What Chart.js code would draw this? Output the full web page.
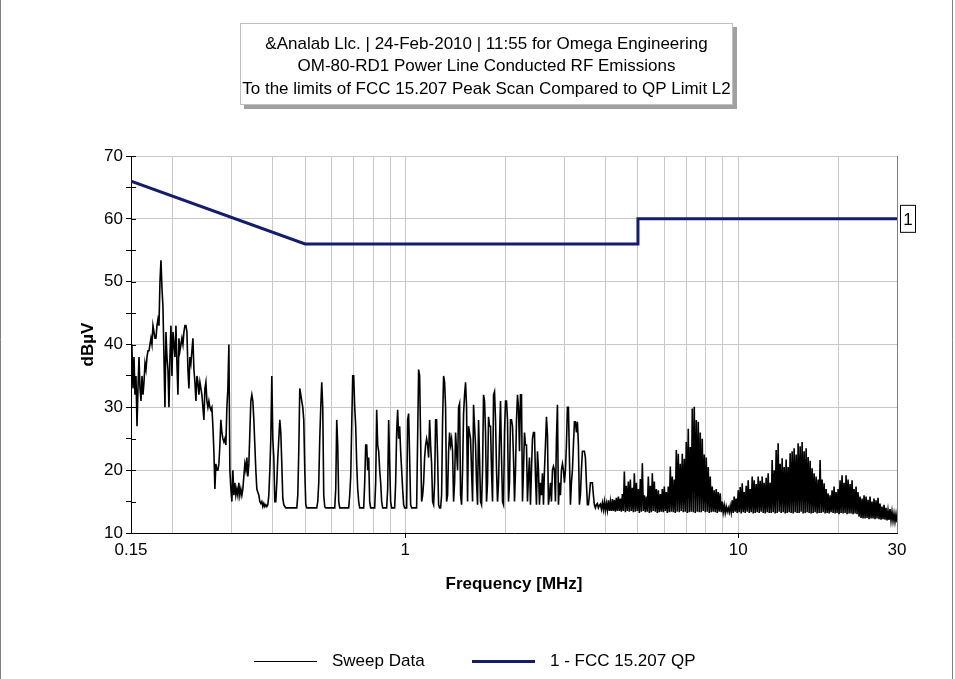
<!DOCTYPE html>
<html>
<head>
<meta charset="utf-8">
<script src="https://cdn.jsdelivr.net/npm/chart.js"></script>
<style>
body { margin: 0; background: #fff; }
canvas { display: block; }
</style>
</head>
<body>
<canvas id="emiChart" width="955" height="679"></canvas>
<script>
// Texts
const titleLines = [
  "&Analab Llc. | 24-Feb-2010 | 11:55 for Omega Engineering",
  "OM-80-RD1 Power Line Conducted RF Emissions",
  "To the limits of FCC 15.207 Peak Scan Compared to QP Limit L2"
];
const seriesNames = ["Sweep Data", "1 - FCC 15.207 QP"];
const limitTag = "1";

// Axis ticks
const yMin = 10, yMax = 70, yStep = 5;
const xMin = 0.15, xMax = 30;
const xGridValues = [0.15, 0.2, 0.3, 0.4, 0.5, 0.6, 0.7, 0.8, 0.9, 1, 2, 3, 4, 5, 6, 7, 8, 9, 10, 20, 30];
const xLabelValues = [0.15, 1, 10, 30];

// QP limit L2 (MHz, dBuV)
const limitFreq = [0.15, 0.5, 5, 5, 30];
const limitLevel = [66, 56, 56, 60, 60];

// Sweep, log spaced 0.15..30 MHz, levels (dBuV)
const sweepLevels = [
  40, 39, 33, 38, 32, 35, 27, 33, 38, 33,
  31, 35, 32, 34, 37, 36, 38, 39, 39, 40,
  41, 40, 43, 42, 41, 41, 43, 44, 43, 50,
  53.4, 49, 46, 38, 30, 42, 38, 36, 30, 38,
  43, 35, 42, 40, 38, 43, 37, 32, 41, 39,
  40, 41, 40, 42, 43, 43, 42, 36, 33, 38,
  37, 39, 41, 36, 34, 31, 35, 34, 32, 34,
  33, 32, 30, 28, 33, 34, 31, 30, 31, 30,
  29.6, 30, 27, 23, 17, 21, 20, 20, 21, 24,
  28, 26, 25, 24.5, 25, 24, 30, 33, 40, 20,
  17, 15, 20, 16, 18, 16, 17, 16, 18, 16,
  17, 16, 17, 19, 21, 20, 22, 19, 21, 26,
  31, 32, 31, 28, 24, 20, 17, 16.5, 16, 15,
  14.7, 15, 14.2, 14.7, 14.2, 14.5, 14.2, 14.5, 16, 20,
  25, 35, 25, 22, 15, 15, 18, 22, 25, 28,
  26, 21, 15.5, 14.5, 14.2, 14, 14, 14, 14, 14,
  14, 14, 14, 14, 14, 14, 14, 16, 23, 33,
  32, 31, 30, 28, 20, 14.5, 14, 14, 14, 14,
  14, 14, 14, 14, 14, 14, 14, 15, 18, 25,
  30, 34, 30, 16, 14.2, 14, 14, 14, 14, 14,
  14, 14, 14, 14, 14, 17, 28, 24, 15, 14,
  14, 14, 14, 14, 14, 14, 14, 14, 14, 16,
  19, 27, 35, 35, 30, 27, 21, 17, 15, 14,
  14, 14, 14, 14, 18, 24, 24, 20, 22, 15,
  14, 14, 14, 14, 14, 18, 29.6, 24, 23, 20,
  18, 15, 14, 14, 14, 14, 14, 17, 28, 21,
  15, 14, 14, 14, 14, 18, 26, 29.6, 25, 27,
  23, 20, 17, 14.5, 14, 14, 14, 28, 29, 22,
  14.5, 14, 14, 14, 14, 14, 14, 25, 36, 35,
  25, 15, 16, 18, 22, 24, 25, 24, 22, 28,
  24, 21, 15, 14.5, 18, 28, 28, 22, 14.5, 14,
  14, 16, 28, 35, 34, 30, 15, 16, 23, 26,
  24, 25, 23, 15, 18, 26, 23, 20, 30, 30.6,
  16, 14.5, 20, 29, 32, 34, 30, 15, 27, 26,
  25, 20, 15, 30.4, 27, 24, 18, 14.5, 28, 22,
  15, 14.5, 20, 32, 31, 26, 15, 18, 28.5, 27,
  27, 20, 15, 32, 32.5, 28, 20, 15, 18, 25,
  31, 22, 15, 14.5, 26, 31, 31, 28, 15, 18,
  28, 28, 27, 22, 15, 20, 28, 32, 30, 23,
  32, 32, 15, 20, 26, 24, 24, 15, 19, 22,
  14.5, 20, 25, 26, 26, 19, 14.5, 23, 20, 14.5,
  18, 16, 19.5, 14.5, 20, 24, 28.5, 25.6, 14.5, 16,
  18, 15, 20, 20.6, 20, 15, 25, 30.4, 14.5, 18,
  16, 20, 21, 20, 18, 20, 24, 30, 30, 22,
  14.5, 18, 20, 24, 27.7, 27.7, 26, 27.7, 24, 14.5,
  16, 20, 23, 23, 23, 22, 18, 14.5, 14.5, 16,
  18, 18, 18, 16, 14.5, 14, 14.5, 14.7, 14, 14.4
];

// Dense part above ~4 MHz: peak tops and noise floor, alternating columns
const denseTops = [
  14.6, 14.8, 15.0, 14.7, 15.2, 15.0, 15.4, 15.3,
  15.6, 15.8, 15.5, 16.2,
  19.8, 17.5, 18.2,
  18.5, 17.2, 19.5, 18.0, 17.0, 18.6,
  21.1, 16.0, 15.8,
  19.0, 17.5, 19.5, 18.2, 17.0,
  16.8, 16.2, 17.0, 17.4, 16.5, 17.4,
  20.6, 19.0, 18.5, 23.2, 22.6, 21.0,
  22.6, 21.8, 24.5, 26.6, 23.7,
  29.8, 30.1, 28.0, 27.7, 26.0,
  25.0, 22.5, 22.0, 20.5, 19.0,
  17.4, 16.8, 17.0, 16.5, 16.3,
  15.0, 14.4, 14.2, 14.0, 14.3,
  15.2, 15.8, 15.5, 16.8, 17.3,
  17.9, 16.5, 17.5, 18.4, 17.0,
  19.0, 18.4, 17.8, 19.0, 18.3,
  19.0, 18.0, 18.8, 19.5, 18.0,
  21.6, 20.0, 23.2, 24.3, 21.0,
  21.9, 20.5, 21.7, 20.5, 22.7,
  23.0, 23.5, 22.5, 24.3, 23.8,
  24.5, 23.0, 23.5, 22.1, 21.5,
  20.3, 19.5, 19.0, 18.5, 21.6,
  18.5, 17.9, 17.0, 16.3, 16.0,
  16.8, 17.4, 16.5, 17.0, 18.4,
  19.2, 18.0, 19.2, 18.5, 17.8,
  18.4, 17.0, 17.4, 16.5, 15.8,
  15.5, 16.0, 15.8, 15.3, 15.8,
  15.0, 15.5, 15.2, 15.6, 14.7,
  14.2, 14.5, 14.0, 13.6, 13.8,
  13.4, 13.1, 13.0
];
const denseFloors = [
  13.8, 13.7, 13.6, 13.6, 13.5, 13.5, 13.5, 13.4, 13.5, 13.5, 13.4, 13.5, 13.3, 13.5, 13.4,
  13.5, 13.3, 13.4, 13.5, 13.2, 13.4, 13.5, 13.3, 13.4, 13.2,
  13.3, 13.5, 13.4, 13.2, 13.3, 13.4, 13.3, 13.5, 13.2, 13.3,
  13.4, 13.3, 13.2, 13.4, 13.3, 13.5, 13.3, 13.4, 13.2, 13.3,
  13.4, 13.3, 13.2, 13.4, 13.3, 13.3, 13.5, 13.3, 13.4, 13.2,
  13.3, 13.4, 13.3, 13.2, 13.4, 13.3, 13.3, 13.2, 13.4, 13.3,
  13.3, 13.2, 13.4, 13.2, 13.3, 13.1, 13.3, 13.2, 13.4, 13.2,
  13.3, 13.1, 13.2, 13.3, 13.2, 13.4, 13.2, 13.1, 13.3, 13.2,
  13.2, 13.3, 13.1, 13.2, 13.4, 13.2, 13.3, 13.1, 13.2, 13.3,
  13.2, 13.1, 13.3, 13.2, 13.2, 13.4, 13.1, 13.2, 13.3, 13.2,
  13.1, 13.2, 13.3, 13.1, 13.2, 13.2, 13.3, 13.1, 13.2, 13.1,
  13.3, 13.2, 13.1, 13.2, 13.0, 13.2, 13.1, 13.2, 13.0, 13.1,
  13.1, 13.0, 13.1, 13.0,
  12.6, 12.4, 12.3, 12.3, 12.4, 12.2, 12.3, 12.3, 12.2, 12.3,
  12.2, 12.1, 12.2, 12.1, 12.0, 12.1, 12.0, 11.9, 11.8, 11.7
];

const font = "'Liberation Sans', Arial, sans-serif";
const limitColor = "#141c6c";
const gridColor = "#c8c8c8";

function buildSweep() {
  const levels = sweepLevels.slice();
  for (let k = 0; k < denseTops.length; k++) {
    levels.push(denseTops[k]);
    if (k < denseFloors.length) levels.push(denseFloors[k]);
  }
  const n = levels.length;
  return levels.map((y, i) => ({ x: xMin * Math.pow(xMax / xMin, i / (n - 1)), y: y }));
}

function buildLimit() {
  return limitFreq.map((f, i) => ({ x: f, y: limitLevel[i] }));
}

// Title box, legend, inner tick marks and the "1" tag
const decorations = {
  id: "decorations",
  beforeDraw(chart) {
    const ctx = chart.ctx;
    ctx.save();
    ctx.fillStyle = "#fff";
    ctx.fillRect(0, 0, chart.width, chart.height);
    ctx.strokeStyle = "#808080";
    ctx.lineWidth = 1;
    ctx.beginPath();
    ctx.moveTo(0.5, 0); ctx.lineTo(0.5, chart.height);
    ctx.moveTo(952.5, 0); ctx.lineTo(952.5, chart.height);
    ctx.stroke();
    // title box
    ctx.fillStyle = "#a0a0a0";
    ctx.fillRect(244, 27, 493, 82);
    ctx.fillStyle = "#fff";
    ctx.fillRect(240, 23, 493, 82);
    ctx.strokeStyle = "#c0c0c0";
    ctx.strokeRect(240.5, 23.5, 492, 81);
    ctx.fillStyle = "#000";
    ctx.font = "17px " + font;
    ctx.textAlign = "center";
    ctx.textBaseline = "middle";
    titleLines.forEach((t, i) => ctx.fillText(t, 486.5, 44.5 + i * 22.3));
    ctx.restore();
  },
  afterDraw(chart) {
    const ctx = chart.ctx;
    const xs = chart.scales.x, ys = chart.scales.y;
    const area = chart.chartArea;
    ctx.save();
    // y ticks also reach into the plot
    ctx.strokeStyle = "#000";
    ctx.lineWidth = 1;
    ctx.beginPath();
    ys.ticks.forEach(t => {
      const py = Math.round(ys.getPixelForValue(t.value)) + 0.5;
      ctx.moveTo(area.left, py);
      ctx.lineTo(area.left + 5, py);
    });
    ctx.stroke();
    // tag at the end of the limit line
    const tx = xs.getPixelForValue(xMax) + 3;
    const ty = ys.getPixelForValue(limitLevel[limitLevel.length - 1]);
    ctx.fillStyle = "#fff";
    ctx.fillRect(tx, ty - 14, 16, 28);
    ctx.strokeRect(tx + 0.5, ty - 13.5, 15, 27);
    ctx.fillStyle = "#000";
    ctx.font = "17px " + font;
    ctx.textAlign = "center";
    ctx.textBaseline = "middle";
    ctx.fillText(limitTag, tx + 8, ty + 1);
    // legend
    const legendX = [254, 472];
    const legendWidth = [1, 3];
    const legendY = 661.5;
    chart.data.datasets.forEach((ds, i) => {
      ctx.strokeStyle = ds.borderColor;
      ctx.lineWidth = legendWidth[i];
      ctx.beginPath();
      ctx.moveTo(legendX[i], legendY);
      ctx.lineTo(legendX[i] + 63, legendY);
      ctx.stroke();
      ctx.fillStyle = "#000";
      ctx.textAlign = "left";
      ctx.fillText(ds.label, legendX[i] + 78, legendY);
    });
    ctx.restore();
  }
};

function renderChart() {
  new Chart(document.getElementById("emiChart"), {
    type: "line",
    data: {
      datasets: [{
        label: seriesNames[0],
        data: buildSweep(),
        borderColor: "#000",
        borderWidth: 1.6,
        pointRadius: 0,
        tension: 0
      }, {
        label: seriesNames[1],
        data: buildLimit(),
        borderColor: limitColor,
        borderWidth: 3,
        pointRadius: 0,
        tension: 0
      }]
    },
    options: {
      responsive: false,
      animation: false,
      events: [],
      layout: { padding: { top: 156, left: 0, right: 58, bottom: 80 } },
      plugins: { legend: { display: false }, title: { display: false }, tooltip: { enabled: false } },
      scales: {
        x: {
          type: "logarithmic",
          min: xMin,
          max: xMax,
          afterBuildTicks: s => { s.ticks = xGridValues.map(v => ({ value: v })); },
          afterFit: s => { s.height = 66; },
          ticks: {
            autoSkip: false,
            maxRotation: 0,
            padding: 2,
            color: "#000",
            font: { family: font, size: 17 },
            callback: v => xLabelValues.includes(v) ? String(v) : ""
          },
          grid: {
            tickLength: 5,
            color: c => c.tick.value === xMin ? "rgba(0,0,0,0)" : (c.tick.value === xMax ? "#808080" : gridColor),
            tickColor: c => (c.tick.value === 1 || c.tick.value === 10) ? "#000" : "rgba(0,0,0,0)"
          },
          border: { color: "#000", width: 1 },
          title: {
            display: true,
            text: "Frequency [MHz]",
            color: "#000",
            font: { family: font, size: 17, weight: "bold" },
            padding: { top: 0, bottom: 4 }
          }
        },
        y: {
          min: yMin,
          max: yMax,
          afterFit: s => { s.width = 131; },
          ticks: {
            stepSize: yStep,
            padding: 3,
            color: "#000",
            font: { family: font, size: 17 },
            callback: v => v % 10 === 0 ? String(v) : ""
          },
          grid: {
            tickLength: 5,
            color: c => c.tick.value % 10 === 0 ? gridColor : "rgba(0,0,0,0)",
            tickColor: "#000"
          },
          border: { color: "#000", width: 1 },
          title: {
            display: true,
            text: "dBµV",
            color: "#000",
            font: { family: font, size: 17, weight: "bold" },
            padding: { top: 78, bottom: 0 }
          }
        }
      }
    },
    plugins: [decorations]
  });
}

renderChart();
</script>
</body>
</html>
